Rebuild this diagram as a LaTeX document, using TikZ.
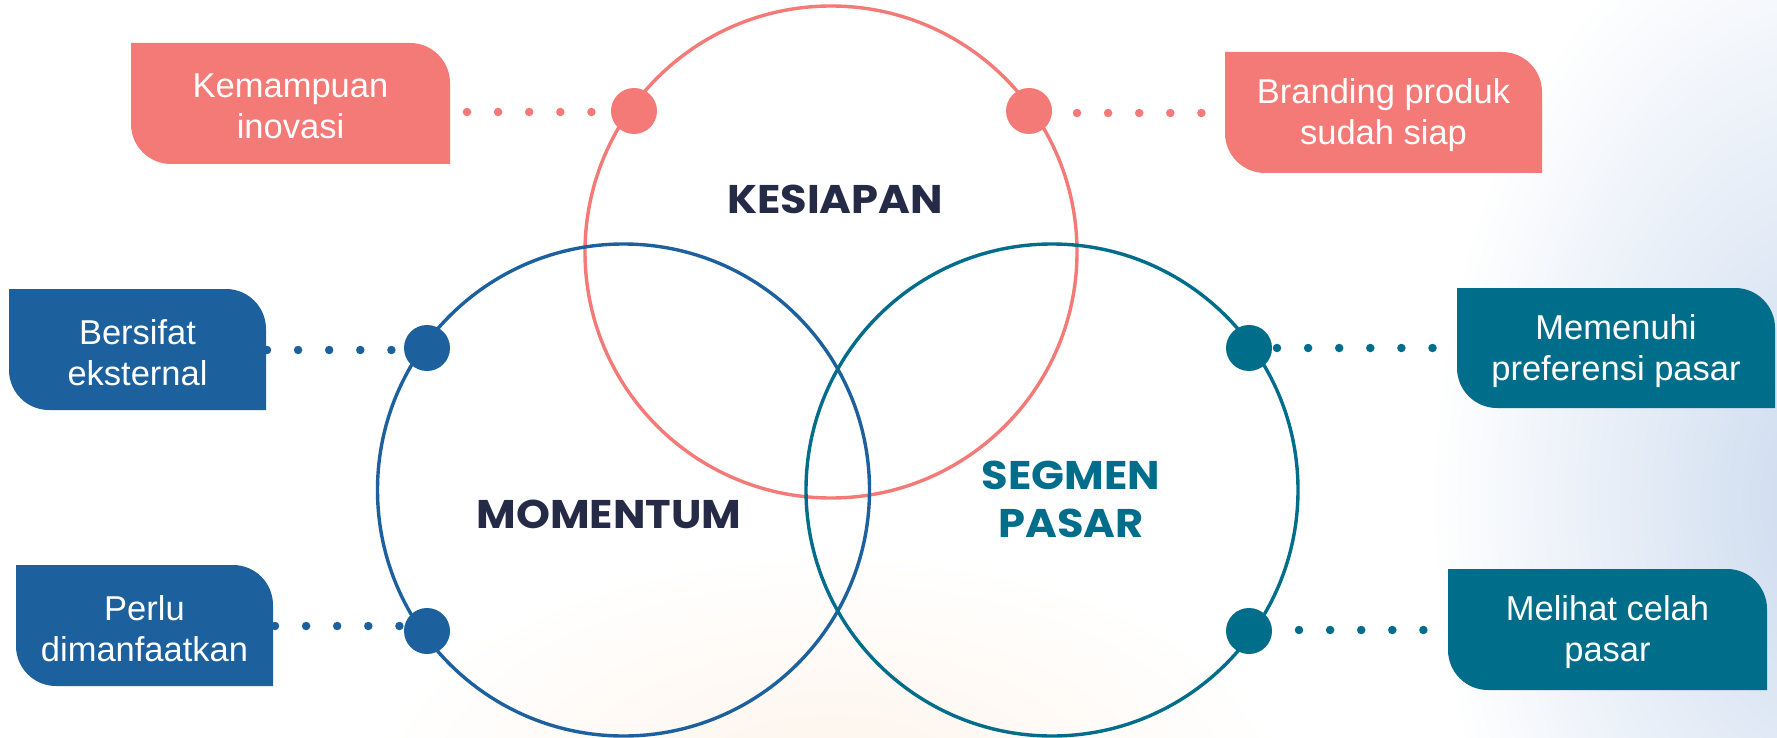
\documentclass[tikz,border=0pt]{standalone}
\usepackage{fontspec}
\setmainfont{Liberation Sans}
\newfontfamily\headfont{Poppins}
\usetikzlibrary{calc}
\definecolor{pinkc}{HTML}{F47A77}
\definecolor{bluec}{HTML}{1D609E}
\definecolor{tealc}{HTML}{006E8A}
\definecolor{navy}{HTML}{252B47}
\definecolor{glowb}{HTML}{CBDAEE}
\definecolor{glowo}{HTML}{FEF4EA}
\pgfdeclareradialshading{glowB}{\pgfpoint{0bp}{0bp}}{color(0bp)=(glowb); color(25bp)=(white); color(50bp)=(white)}
\pgfdeclareradialshading{glowO}{\pgfpoint{0bp}{0bp}}{color(0bp)=(glowo); color(25bp)=(white); color(50bp)=(white)}
\tikzset{
  tagtext/.style={text=white, font=\fontsize{34.5}{41}\selectfont, align=center, inner sep=0pt, outer sep=0pt},
  dotnode/.style={circle, minimum size=46pt, inner sep=0pt, outer sep=0pt},
  dotline/.style={line width=8.5pt, line cap=round, dash pattern=on 0pt off 31.1pt},
  ring/.style={line width=3.4pt},
  head/.style={font=\headfont\bfseries\fontsize{40}{48}\selectfont, align=center, inner sep=0pt}
}
\newcommand\hd[1]{\scalebox{1.08}[1]{#1}}
\newcommand\tagbox[7]{%
  \fill[#6] (#2,#3) -- (#4-40,#3) arc[start angle=-90,end angle=0,radius=40] -- (#4,#5) -- (#2+40,#5) arc[start angle=90,end angle=180,radius=40] -- cycle;
  \node[tagtext, minimum width={#4pt-#2pt}, minimum height={#5pt-#3pt}, yshift=-3pt] (#1) at ({(#2+#4)/2},{(#3+#5)/2}) {#7};
}
\begin{document}
\begin{tikzpicture}[x=1pt,y=-1pt]
\useasboundingbox (0,0) rectangle (1777,738);
\begin{scope}
\clip (0,0) rectangle (1777,738);
\fill[white] (0,0) rectangle (1777,738);
\shade[shading=glowB] (1830,500) ellipse[x radius=400, y radius=620];
\shade[shading=glowO] (830,790) ellipse[x radius=460, y radius=240];
\end{scope}
% circles
\draw[ring, pinkc] (831,252) circle[radius=246];
\draw[ring, bluec] (623.5,490) circle[radius=246];
\draw[ring, tealc] (1052,490) circle[radius=246];
% headings
\node[head, text=navy] (kesiapan) at (835,199) {\hd{KESIAPAN}};
\node[head, text=navy] (momentum) at (609,514) {\hd{MOMENTUM}};
\node[head, text=tealc] (segmen) at (1071,499) {\hd{SEGMEN}\\\hd{PASAR}};
% boxes
\tagbox{kem}{131}{43}{450}{164}{pinkc}{Kemampuan\\inovasi}
\tagbox{brand}{1225}{52}{1542}{173}{pinkc}{Branding produk\\sudah siap}
\tagbox{bers}{9}{289}{266}{410}{bluec}{Bersifat\\eksternal}
\tagbox{perlu}{16}{565}{273}{686}{bluec}{Perlu\\dimanfaatkan}
\tagbox{memen}{1457}{288}{1775}{408}{tealc}{Memenuhi\\preferensi pasar}
\tagbox{melihat}{1448}{569}{1767}{690}{tealc}{Melihat celah\\pasar}
% dots
\node[dotnode, fill=pinkc] (kd) at (634,111) {};
\node[dotnode, fill=pinkc] (bd) at (1029,111) {};
\node[dotnode, fill=bluec] (md1) at (427,348) {};
\node[dotnode, fill=bluec] (md2) at (427,631) {};
\node[dotnode, fill=tealc] (sd1) at (1249,348) {};
\node[dotnode, fill=tealc] (sd2) at (1249,631) {};
% dotted connectors
\draw[dotline, pinkc] ($(kem.east |- kd)+(17,1)$) -- ($(kd)+(-42.2,1)$);
\draw[dotline, pinkc] ($(bd)+(48,2)$) -- ($(brand.west |- bd)+(-23.2,2)$);
\draw[dotline, bluec] ($(bers.east |- md1)+(1,2)$) -- ($(md1)+(-35.3,2)$);
\draw[dotline, bluec] ($(perlu.east |- md2)+(2,-5)$) -- ($(md2)+(-27.3,-5)$);
\draw[dotline, tealc] ($(sd1)+(28,0)$) -- ($(memen.west |- sd1)+(-24.3,0)$);
\draw[dotline, tealc] ($(sd2)+(50,-1)$) -- ($(melihat.west |- sd2)+(-24.4,-1)$);
\end{tikzpicture}
\end{document}
